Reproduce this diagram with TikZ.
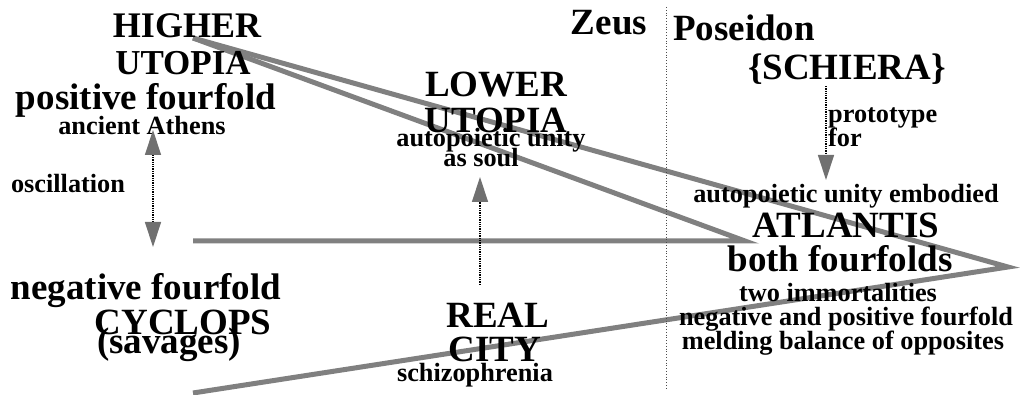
\documentclass[tikz,border=0pt]{standalone}
\usepackage{fontspec}
\setmainfont{Liberation Serif}
\usepackage{tikz}
\usetikzlibrary{arrows.meta}
\definecolor{wedgegray}{HTML}{808080}
\definecolor{tipgray}{HTML}{707070}
\tikzset{
  big/.style={anchor=base,inner sep=0pt,font=\fontsize{37}{37}\selectfont\bfseries},
  small/.style={anchor=base,inner sep=0pt,font=\fontsize{26.3}{26.3}\selectfont\bfseries},
  wedge/.style={draw=wedgegray,line width=5pt,line join=miter},
  dotarrow/.style={-{Triangle[width=16pt,length=25pt,color=tipgray]},line width=1.3pt,densely dotted,black},
  dotboth/.style={{Triangle[width=16pt,length=25pt,color=tipgray]}-{Triangle[width=16pt,length=25pt,color=tipgray]},line width=1.3pt,densely dotted,black},
  divider/.style={draw=black!70,line width=0.8pt,dotted},
}

\begin{document}
\begin{tikzpicture}[x=1pt,y=-1pt]
  \useasboundingbox (0,0) rectangle (1021,395);
  % corners of the two wedges
  \coordinate (hu) at (193,38);
  \coordinate (apex) at (1008,267);
  \coordinate (bl) at (193,393);
  \coordinate (mid) at (745,241);
  \coordinate (hl) at (193,241);
  \draw[wedge] (hu) -- (apex) -- (bl);
  \draw[wedge] (hu) -- (mid) -- (hl);
  % divider Zeus / Poseidon
  \coordinate (divtop) at (666,7);
  \coordinate (divbot) at (666,390);
  \draw[divider] (divtop) -- (divbot);
  % left column
  \node[big,font=\fontsize{36}{36}\selectfont\bfseries] (higher) at (187,38) {HIGHER};
  \node[big,font=\fontsize{35}{35}\selectfont\bfseries] (utopia) at (183,75) {UTOPIA};
  \node[big] (posff) at (146,110) {positive fourfold};
  \node[small] (athens) at (142,135) {ancient Athens};
  \node[small] (osc) at (68,193) {oscillation};
  \node[big] (negff) at (146,300) {negative fourfold};
  \node[big] (cyclops) at (183,335) {CYCLOPS};
  \node[big] (savages) at (169,354) {(savages)};
  % middle column
  \node[big] (lower) at (496,97) {LOWER};
  \node[big] (lutopia) at (496,133) {UTOPIA};
  \node[small] (unity) at (491,147) {autopoietic unity};
  \node[small] (soul) at (481,167) {as soul};
  \node[big] (real) at (498,328) {REAL};
  \node[big] (city) at (495,362) {CITY};
  \node[small] (schizo) at (475,382) {schizophrenia};
  \node[big] (zeus) at (609,35) {Zeus};
  % right column
  \node[big] (poseidon) at (744,41) {Poseidon};
  \node[big] (schiera) at (847,80) {\{SCHIERA\}};
  \node[small,anchor=base west] (proto) at (828,123) {prototype};
  \node[small,anchor=base west] (for) at (828,147) {for};
  \node[small] (embodied) at (846,203) {autopoietic unity embodied};
  \node[big] (atlantis) at (846,238) {ATLANTIS};
  \node[big] (bothff) at (840,272) {both fourfolds};
  \node[small] (immort) at (838,302) {two immortalities};
  \node[small] (negpos) at (846,326) {negative and positive fourfold};
  \node[small] (melding) at (843,350) {melding balance of opposites};
  % dotted arrows
  \coordinate (osctop) at (153,130);
  \coordinate (oscbot) at (153,247);
  \draw[dotboth] (osctop) -- (oscbot);
  \coordinate (cityup) at (480,285);
  \coordinate (soultip) at (480,177);
  \draw[dotarrow] (cityup) -- (soultip);
  \coordinate (protostart) at (826,86);
  \coordinate (prototip) at (826,180);
  \draw[dotarrow] (protostart) -- (prototip);
\end{tikzpicture}
\end{document}
